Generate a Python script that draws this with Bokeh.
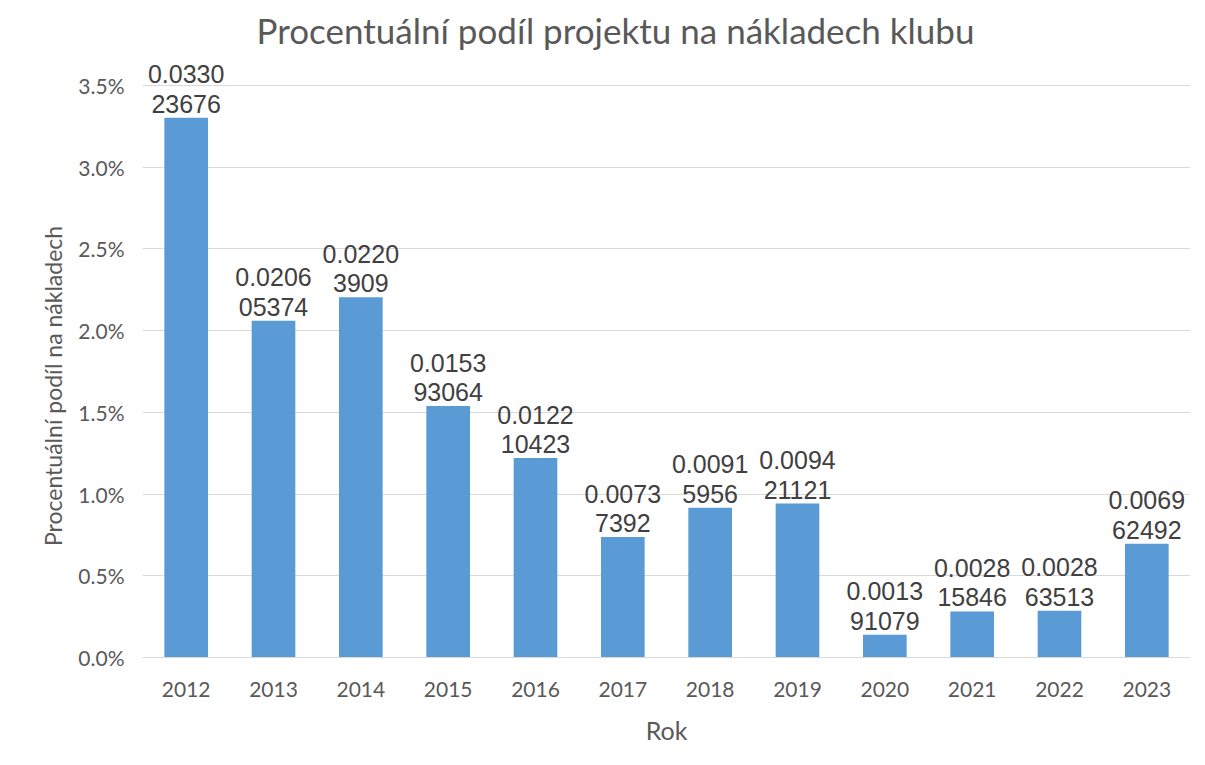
from bokeh.plotting import figure
from bokeh.models import ColumnDataSource, FixedTicker, NumeralTickFormatter, Range1d
from bokeh.core.properties import value
from bokeh.embed import file_html
from bokeh.resources import INLINE

years = ["2012", "2013", "2014", "2015", "2016", "2017", "2018", "2019", "2020", "2021", "2022", "2023"]
shares = [0.033023676, 0.020605374, 0.02203909, 0.015393064, 0.012210423, 0.00737392,
          0.00915956, 0.009421121, 0.001391079, 0.002815846, 0.002863513, 0.006962492]
y_ticks = [0.0, 0.005, 0.01, 0.015, 0.02, 0.025, 0.03, 0.035]

labels = []
for v in shares:
    s = str(v)
    labels.append(s[:6] + "\n" + s[6:])

src = ColumnDataSource(dict(x=years, y=shares, lab=labels))

p = figure(x_range=years, width=1205, height=765, output_backend="svg", toolbar_location=None,
           title="Procentuální podíl projektu na nákladech klubu",
           min_border_left=142, min_border_right=15, min_border_top=55, min_border_bottom=108)
p.y_range = Range1d(0, 0.03684)

p.vbar(x="x", top="y", width=0.5, source=src, fill_color="#5B9BD5", line_color=None)
p.text(x="x", y="y", text="lab", source=src, text_align="center", text_baseline="bottom",
       y_offset=0, text_font=value("Liberation Sans"), text_font_size="25px",
       text_color="#404040", text_line_height=1.05)

p.title.align = "left"
p.title.offset = 114
p.title.text_font = "Lato"
p.title.text_font_size = "35px"
p.title.text_font_style = "normal"
p.title.text_color = "#595959"

p.yaxis.ticker = FixedTicker(ticks=y_ticks)
p.yaxis.formatter = NumeralTickFormatter(format="0.0%")
p.yaxis.axis_line_color = None
p.yaxis.major_tick_line_color = None
p.yaxis.minor_tick_line_color = None
p.yaxis.major_label_standoff = 12
p.yaxis.axis_label = "Procentuální podíl na nákladech" + "\u00a0" * 10
p.yaxis.axis_label_standoff = 8

p.xaxis.axis_line_color = "#D9D9D9"
p.xaxis.major_tick_line_color = None
p.xaxis.major_label_standoff = 18
p.xaxis.axis_label = "Rok"
p.xaxis.axis_label_standoff = 15

for ax in (p.xaxis[0], p.yaxis[0]):
    ax.major_label_text_font = "Lato"
    ax.major_label_text_font_size = "21px"
    ax.major_label_text_color = "#595959"
    ax.axis_label_text_font = "Lato"
    ax.axis_label_text_font_style = "normal"
    ax.axis_label_text_color = "#595959"
p.xaxis.axis_label_text_font_size = "25px"
p.yaxis.axis_label_text_font_size = "23px"

p.xgrid.grid_line_color = None
p.ygrid.grid_line_color = "#D9D9D9"
p.ygrid.ticker = FixedTicker(ticks=y_ticks)
p.outline_line_color = None
p.x_range.range_padding = 0.0

open("out.html", "w").write(file_html(p, INLINE))
